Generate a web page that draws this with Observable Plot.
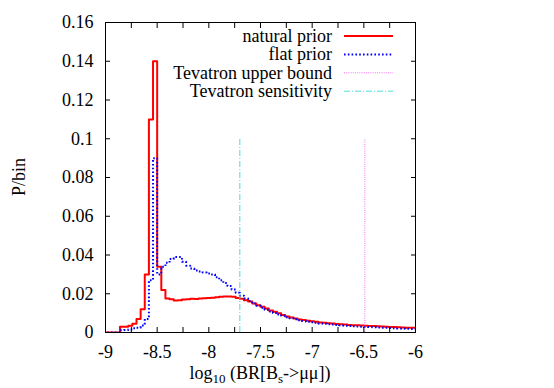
<!DOCTYPE html>
<html><head><meta charset="utf-8">
<script src="https://cdn.jsdelivr.net/npm/d3@7"></script>
<script src="https://cdn.jsdelivr.net/npm/@observablehq/plot@0.6"></script>
<style>
body{margin:0;background:#fff}
</style>
</head><body><div id="chart"></div>
<script>
// Histogram bins: left edge of first bin and bin width (log10 BR)
const binStart = -9.02;
const binWidth = 0.04;

// P/bin, natural prior (red, solid)
const naturalPrior = [
  0, 0, 0, 0, 0.003, 0.003, 0.0035, 0.0045, 0.007, 0.012,
  0.030, 0.110, 0.140, 0.034, 0.022, 0.0175, 0.0172, 0.0165, 0.0166, 0.0170,
  0.0172, 0.0174, 0.0173, 0.0175, 0.0177, 0.0178, 0.0180, 0.0182, 0.0184, 0.0186,
  0.0186, 0.0185, 0.0178, 0.0174, 0.0166, 0.0160, 0.0150, 0.0141, 0.0133, 0.0124,
  0.0114, 0.0107, 0.0099, 0.0090, 0.0083, 0.0078, 0.0072, 0.0067, 0.0064, 0.0061,
  0.0058, 0.0055, 0.0052, 0.0050, 0.0048, 0.0046, 0.0044, 0.0042, 0.0041, 0.0039,
  0.0038, 0.0037, 0.0036, 0.0035, 0.0034, 0.0033, 0.0032, 0.0031, 0.0030, 0.0029,
  0.0028, 0.0027, 0.0026, 0.0025, 0.0024, 0.0024
];

// P/bin, flat prior (blue, dotted)
const flatPrior = [
  0, 0, 0, 0, 0.0012, 0.0013, 0.0016, 0.0022, 0.0025, 0.0036,
  0.007, 0.027, 0.090, 0.030, 0.034, 0.036, 0.038, 0.039, 0.039, 0.0365,
  0.0345, 0.033, 0.032, 0.0315, 0.031, 0.0305, 0.030, 0.0285, 0.027, 0.0255,
  0.024, 0.0222, 0.0205, 0.019, 0.0175, 0.0162, 0.015, 0.0138, 0.0128, 0.0118,
  0.0109, 0.0101, 0.0093, 0.0086, 0.0079, 0.0073, 0.0068, 0.0063, 0.0059, 0.0056,
  0.0053, 0.0050, 0.0047, 0.0045, 0.0043, 0.0041, 0.0039, 0.0037, 0.0035, 0.0034,
  0.0032, 0.0031, 0.0030, 0.0029, 0.0028, 0.0027, 0.0026, 0.0025, 0.0024, 0.0023,
  0.0022, 0.0021, 0.0020, 0.0019, 0.0018, 0.0017
];

// Tevatron reference lines (log10 BR) and their drawn height (P/bin)
const tevatronUpperBound = [-6.49];
const tevatronSensitivity = [-7.7];
const tevatronLineHeight = 0.1;

// Axis ticks and labels
const xTickLabels = [-9, -8.5, -8, -7.5, -7, -6.5, -6];
const xTicks = [-9, -8.75, -8.5, -8.25, -8, -7.75, -7.5, -7.25, -7, -6.75, -6.5, -6.25, -6];
const yTicks = [0, 0.02, 0.04, 0.06, 0.08, 0.1, 0.12, 0.14, 0.16];

const seriesNames = ["natural prior", "flat prior", "Tevatron upper bound", "Tevatron sensitivity"];

function stepData(values) {
  const pts = values.map((v, i) => ({x: binStart + i * binWidth, y: v}));
  pts.push({x: binStart + values.length * binWidth, y: values[values.length - 1]});
  return pts;
}

const styles = [
  {stroke: "#ff0000", strokeWidth: 2, dash: null},
  {stroke: "#0000ff", strokeWidth: 2, dash: "1.6,2.2"},
  {stroke: "#f070f0", strokeWidth: 1, dash: "1,1.2"},
  {stroke: "#50dada", strokeWidth: 1, dash: "6,2,1,2"}
];

const fontFamily = "Liberation Serif, Tinos, Times New Roman, DejaVu Serif, Noto Serif, serif";

const chart = Plot.plot({
  width: 554,
  height: 388,
  marginLeft: 105,
  marginRight: 139,
  marginTop: 22,
  marginBottom: 56,
  style: {fontFamily, fontSize: "18px", background: "#fff", color: "#000", overflow: "visible"},
  x: {domain: [-9, -6]},
  y: {domain: [0, 0.16]},
  marks: [
    Plot.line(stepData(naturalPrior), {x: "x", y: "y", curve: "step-after", stroke: styles[0].stroke, strokeWidth: styles[0].strokeWidth, clip: true}),
    Plot.line(stepData(flatPrior), {x: "x", y: "y", curve: "step-after", stroke: styles[1].stroke, strokeWidth: styles[1].strokeWidth, strokeDasharray: styles[1].dash, strokeLinecap: "butt", clip: true}),
    Plot.ruleX(tevatronUpperBound, {x: d => d, y1: 0, y2: tevatronLineHeight, stroke: styles[2].stroke, strokeWidth: styles[2].strokeWidth, strokeDasharray: styles[2].dash}),
    Plot.ruleX(tevatronSensitivity, {x: d => d, y1: 0, y2: tevatronLineHeight, stroke: styles[3].stroke, strokeWidth: styles[3].strokeWidth, strokeDasharray: styles[3].dash}),
    Plot.frame({stroke: "#000", strokeWidth: 1}),
    Plot.axisX(xTicks, {anchor: "bottom", tickSize: -5, fill: "none", label: null}),
    Plot.axisX(xTicks, {anchor: "top", tickSize: -5, fill: "none", label: null}),
    Plot.axisY(yTicks, {anchor: "left", tickSize: -5, fill: "none", label: null}),
    Plot.axisY(yTicks, {anchor: "right", tickSize: -5, fill: "none", label: null}),
    Plot.axisX(xTickLabels, {anchor: "bottom", tickSize: 0, tickPadding: 13, tickFormat: d => String(d), label: null, fontSize: 18, fontFamily, fill: "#000"}),
    Plot.axisY(yTicks, {anchor: "left", tickSize: 0, tickPadding: 12, tickFormat: d => String(d), label: null, fontSize: 18, fontFamily, fill: "#000"})
  ]
});

document.getElementById("chart").appendChild(chart);
chart.querySelectorAll("text").forEach(t => t.setAttribute("font-family", fontFamily));

// Frame geometry from the scales
const sx = chart.scale("x"), sy = chart.scale("y");
const xL = Math.min(...sx.range), xR = Math.max(...sx.range);
const yB = Math.max(...sy.range), yT = Math.min(...sy.range);
const svg = d3.select(chart);

// Legend (top right, inside the frame)
const lg = svg.append("g").style("font-family", fontFamily).attr("font-size", 18);
seriesNames.forEach((name, i) => {
  const cy = yT + 14 + 18.4 * i;
  lg.append("text").attr("x", xR - 83).attr("y", cy).attr("text-anchor", "end")
    .attr("dominant-baseline", "central").attr("fill", "#000").text(name);
  const ln = lg.append("line").attr("x1", xR - 71).attr("x2", xR - 22).attr("y1", cy).attr("y2", cy)
    .attr("stroke", styles[i].stroke).attr("stroke-width", styles[i].strokeWidth);
  if (styles[i].dash) ln.attr("stroke-dasharray", styles[i].dash);
});

// Y axis title
svg.append("text")
  .attr("transform", `translate(19,${(yT + yB) / 2}) rotate(-90)`)
  .attr("text-anchor", "middle").attr("dominant-baseline", "central")
  .style("font-family", fontFamily).attr("font-size", 18).attr("fill", "#000")
  .text("P/bin");

// X axis title with subscripts
const xt = svg.append("text")
  .attr("x", (xL + xR) / 2).attr("y", yB + 47)
  .attr("text-anchor", "middle")
  .style("font-family", fontFamily).attr("font-size", 18).attr("fill", "#000");
xt.append("tspan").text("log");
xt.append("tspan").attr("font-size", 13).attr("dy", 4).text("10");
xt.append("tspan").attr("dy", -4).text(" (BR[B");
xt.append("tspan").attr("font-size", 13).attr("dy", 4).text("s");
xt.append("tspan").attr("dy", -4).text("->μμ])");
</script>
</body></html>
